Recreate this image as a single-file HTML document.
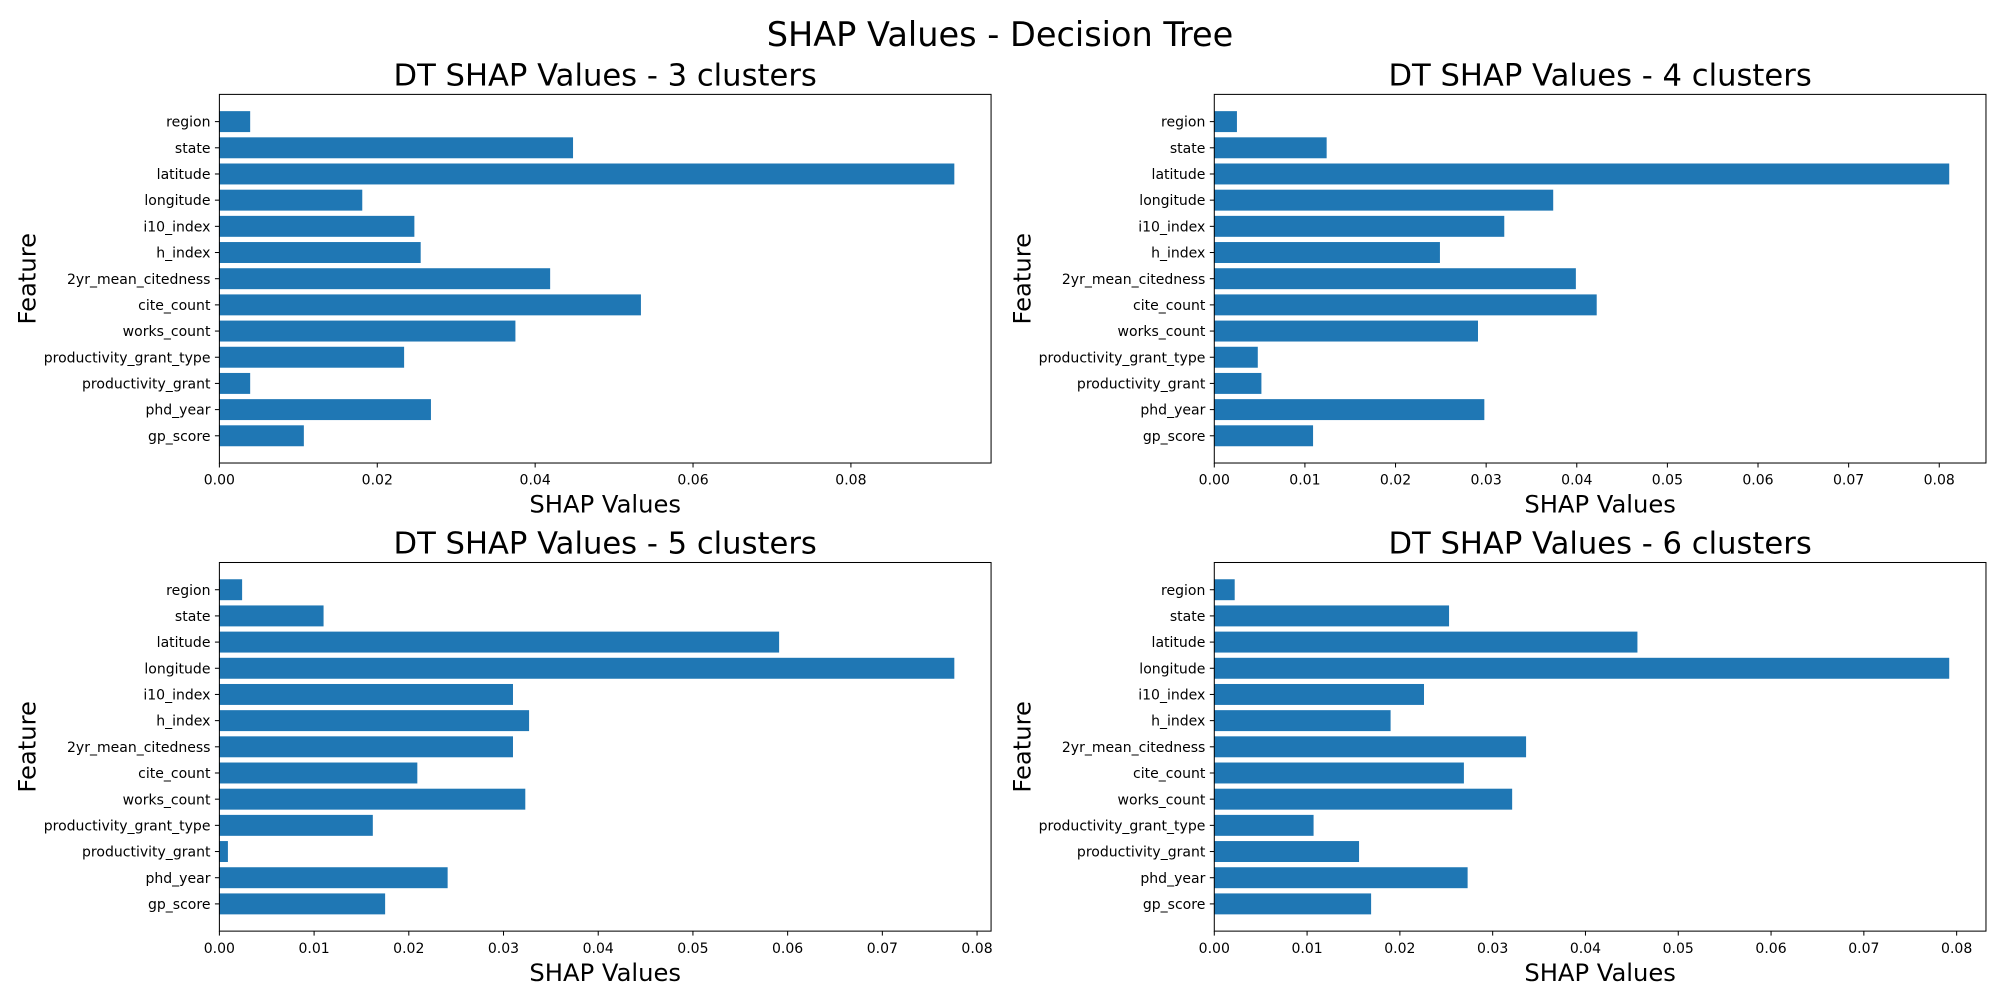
<!DOCTYPE html>
<html><head><meta charset="utf-8"><style>
html,body{margin:0;padding:0;background:#fff;}
svg{display:block;font-family:"DejaVu Sans","Liberation Sans",sans-serif;}
</style></head><body>
<svg id="fig" width="2000" height="1000" viewBox="0 0 1568 784" xmlns="http://www.w3.org/2000/svg">
<rect width="1568" height="784" fill="#fff"/>
<text x="784" y="36" font-size="26.3" text-anchor="middle" fill="#000">SHAP Values - Decision Tree</text>
</svg>
<script>
const features = ["region","state","latitude","longitude","i10_index","h_index","2yr_mean_citedness","cite_count","works_count","productivity_grant_type","productivity_grant","phd_year","gp_score"];
const titles = ["DT SHAP Values - 3 clusters","DT SHAP Values - 4 clusters","DT SHAP Values - 5 clusters","DT SHAP Values - 6 clusters"];
const vals3 = [0.0039,0.0448,0.0931,0.0181,0.0247,0.0255,0.0419,0.0534,0.0375,0.0234,0.0039,0.0268,0.0107];
const vals4 = [0.0025,0.0124,0.0811,0.0374,0.0320,0.0249,0.0399,0.0422,0.0291,0.0048,0.0052,0.0298,0.0109];
const vals5 = [0.0024,0.0110,0.0591,0.0776,0.0310,0.0327,0.0310,0.0209,0.0323,0.0162,0.0009,0.0241,0.0175];
const vals6 = [0.0022,0.0253,0.0456,0.0792,0.0226,0.0190,0.0336,0.0269,0.0321,0.0107,0.0156,0.0273,0.0169];
const ticks3 = ["0.00","0.02","0.04","0.06","0.08"];
const ticks4 = ["0.00","0.01","0.02","0.03","0.04","0.05","0.06","0.07","0.08"];
const ticks5 = ["0.00","0.01","0.02","0.03","0.04","0.05","0.06","0.07","0.08"];
const ticks6 = ["0.00","0.01","0.02","0.03","0.04","0.05","0.06","0.07","0.08"];
const allVals=[vals3,vals4,vals5,vals6], allTicks=[ticks3,ticks4,ticks5,ticks6];
const NS="http://www.w3.org/2000/svg";
const svg=document.getElementById('fig');
function mk(tag,attrs,parent){const e=document.createElementNS(NS,tag);for(const k in attrs)e.setAttribute(k,attrs[k]);(parent||svg).appendChild(e);return e;}
const boxes=[[172,74],[952,74],[172,441],[952,441]];
const W=605,H=289;
boxes.forEach((b,p)=>{
  const [L,T]=b; const vals=allVals[p], ticks=allTicks[p];
  const g=mk('g',{});
  
  
  const xmax=Math.max(...vals)*1.05;
  const xs=v=>L+v/xmax*W;
  const n=features.length, ymin=-1.04, ymax=n-1+1.04;
  const ys=i=>T+H-(i-ymin)/(ymax-ymin)*H;
  const unit=H/(ymax-ymin);
  features.forEach((f,k)=>{
    const i=n-1-k; const cy=ys(i);
    const r=mk('rect',{x:L,y:cy-0.4*unit,width:xs(vals[k])-L,height:0.8*unit,fill:'#1f77b4'},g);
    
    
    mk('line',{x1:L-3.5,x2:L,y1:cy,y2:cy,stroke:'#000','stroke-width':0.8},g);
    const t=mk('text',{x:L-7,y:cy+4,'font-size':11,'text-anchor':'end',fill:'#000'},g);
    t.textContent=f;
    
    
  });
  ticks.forEach(tl=>{
    const x=xs(parseFloat(tl));
    mk('line',{x1:x,x2:x,y1:T+H,y2:T+H+3.5,stroke:'#000','stroke-width':0.8},g);
    const t=mk('text',{x:x,y:T+H+17,'font-size':11,'text-anchor':'middle',fill:'#000'},g);
    t.textContent=tl;
    
    
  });
  mk('rect',{x:L,y:T,width:W,height:H,fill:'none',stroke:'#000','stroke-width':0.8},g);
  const tt=mk('text',{x:L+W/2,y:T-7,'font-size':24,'text-anchor':'middle',fill:'#000'},g);
  tt.textContent=titles[p];
  
  
  const xl=mk('text',{x:L+W/2,y:T+H+39,'font-size':19,'text-anchor':'middle',fill:'#000'},g);
  xl.textContent='SHAP Values';
  
  
  const yx=L-144, yy=T+H/2;
  const yl=mk('text',{x:yx,y:yy,'font-size':19,'text-anchor':'middle',fill:'#000',transform:`rotate(-90 ${yx} ${yy})`},g);
  yl.textContent='Feature';
  
  
});
</script>
</body></html>
